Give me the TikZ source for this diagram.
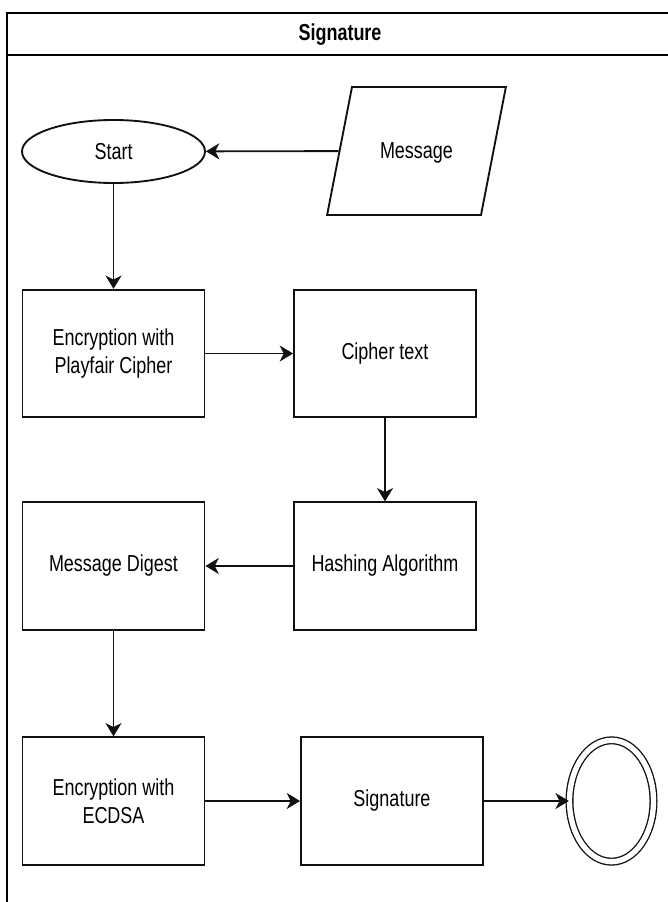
\documentclass[tikz,border=0pt]{standalone}
\usepackage{fontspec}
\setmainfont{Liberation Sans}[FakeStretch=0.78]
\usetikzlibrary{shapes.geometric,arrows.meta}

\definecolor{ink}{HTML}{111111}
\definecolor{lane}{HTML}{000000}

\begin{document}
\begin{tikzpicture}[
  x=0.75pt,
  y=-0.75pt,
  font=\fontsize{17.3pt}{21pt}\selectfont,
  box/.style={draw=ink,line width=1.4pt,fill=white,align=center,
    minimum width=136.5pt,minimum height=95.5pt,inner sep=0pt},
  startnode/.style={draw=ink,line width=1.4pt,ellipse,inner sep=0pt,
    minimum width=137.25pt,minimum height=47.25pt},
  inputnode/.style={draw=ink,line width=1.4pt,trapezium,
    trapezium left angle=79,trapezium right angle=101,
    inner sep=0pt,text width=96.75pt,align=center,
    text height=53.9pt,text depth=42.1pt},
  endnode/.style={draw=ink,line width=1pt,double,double distance=4pt,
    ellipse,inner sep=0pt,minimum width=63pt,minimum height=91pt},
  flow/.style={draw=ink,line width=1.4pt,
    -{Stealth[length=10pt,width=12pt,inset=3pt]}}
]
\useasboundingbox (0,0) rectangle (667,902);

% lane
\draw[lane,line width=1.5pt] (7,902) |- (672,13);
\draw[lane,line width=1.5pt] (7,55) -- (672,55);
\node[font=\fontsize{17.3pt}{21pt}\selectfont\bfseries] (title) at (340,35) {Signature};

\node[startnode] (start) at (113.5,151.5) {Start};
\node[inputnode] (message) at (416.5,151) {Message};

\node[box] (playfair) at (113.5,353.5) {Encryption with\\Playfair Cipher};
\node[box] (cipher) at (385,353.5) {Cipher text};

\node[box] (digest) at (113.5,566) {Message Digest};
\node[box] (hashing) at (385,566) {Hashing Algorithm};

\node[box] (ecdsa) at (113.5,801) {Encryption with\\ECDSA};
\node[box] (signature) at (392,801) {Signature};
\node[endnode] (finish) at (611.5,801) {};

\draw[flow] (message) -- (start);
\draw[flow] (start) -- (playfair);
\draw[flow] (playfair) -- (cipher);
\draw[flow] (cipher) -- (hashing);
\draw[flow] (hashing) -- (digest);
\draw[flow] (digest) -- (ecdsa);
\draw[flow] (ecdsa) -- (signature);
\draw[flow] (signature) -- (finish);
\end{tikzpicture}
\end{document}
